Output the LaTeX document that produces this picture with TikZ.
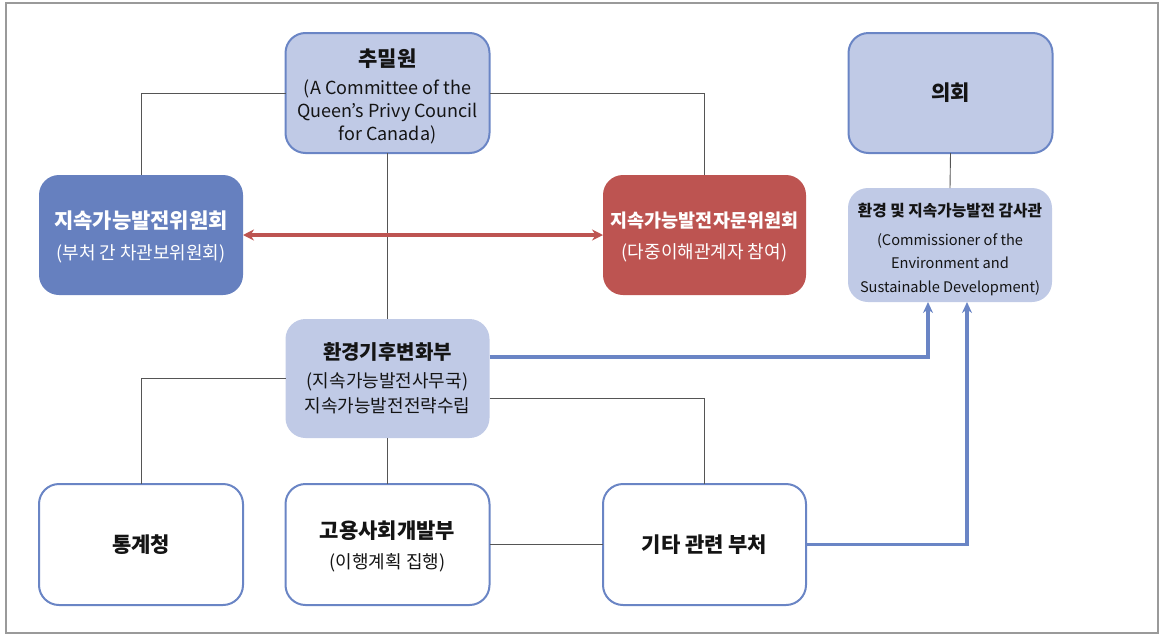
\documentclass[tikz,border=0pt]{standalone}
\usepackage{fontspec}
\setmainfont{Noto Sans CJK KR}
\usetikzlibrary{arrows.meta}
\definecolor{lblue}{HTML}{C0CAE6}
\definecolor{bord}{HTML}{6A85C5}
\definecolor{dblue}{HTML}{6680BF}
\definecolor{dred}{HTML}{BD5451}
\definecolor{lgray}{HTML}{555555}
\definecolor{frame}{HTML}{9A9A9A}
\definecolor{txt}{HTML}{141414}
\newcommand{\ttl}{\fontsize{21}{23}\selectfont\bfseries}
\newcommand{\sub}{\fontsize{18}{23}\selectfont}
\tikzset{
  box/.style={rounded corners=20pt, minimum width=204pt, minimum height=120pt, inner sep=0pt, outer sep=0pt, align=center, text=txt, line width=2pt, font=\fontsize{18}{23}\selectfont},
  lbox/.style={box, fill=lblue, draw=bord},
  nbox/.style={box, fill=lblue},
  wbox/.style={box, fill=white, draw=bord},
  conn/.style={draw=lgray, line width=0.9pt},
  bconn/.style={draw=bord, line width=3.5pt, -{Stealth[length=11pt,width=10pt]}},
  rconn/.style={draw=dred, line width=3.2pt, {Stealth[length=11pt,width=11pt]}-{Stealth[length=11pt,width=11pt]}}
}
\begin{document}
\begin{tikzpicture}[x=1pt,y=-1pt]
\useasboundingbox (0,0) rectangle (1162,635);
\draw[frame, line width=1.5pt] (6,3) rectangle (1158,633);

\node[lbox] (chu) at (387.5,93) {{\ttl\rule{0pt}{24pt}추밀원}\\[5pt]{\sub (A Committee of the}\\{\sub Queen’s Privy Council}\\{\sub for Canada)}};
\node[box, fill=dblue, text=white, minimum width=204pt] (sdc) at (141,235) {{\ttl\rule{0pt}{21pt}지속가능발전위원회}\\[8pt]{\sub (부처 간 차관보위원회)}};
\node[box, fill=dred, text=white, minimum width=203pt] (sdac) at (704.5,235) {{\fontsize{18.5}{23}\selectfont\bfseries\rule{0pt}{20pt}지속가능발전자문위원회}\\[8pt]{\sub (다중이해관계자 참여)}};
\node[lbox] (parl) at (950.5,93) {{\ttl 의회}};
\node[nbox, minimum height=114pt, font=\fontsize{14.6}{23.5}\selectfont] (cesd) at (950,245) {{\fontsize{15.7}{23}\selectfont\bfseries\rule{0pt}{22pt}환경 및 지속가능발전 감사관}\\[5pt](Commissioner of the\\Environment and\\Sustainable Development)};
\node[nbox, minimum height=119pt] (eccc) at (387.5,378.5) {{\fontsize{20}{23}\selectfont\bfseries 환경기후변화부}\\[5pt]{\sub (지속가능발전사무국)}\\[2pt]{\sub 지속가능발전전략수립}};
\node[wbox, minimum height=121pt] (stat) at (141,544.5) {{\ttl 통계청}};
\node[wbox, minimum height=121pt] (esdc) at (387.5,544.5) {{\ttl\rule{0pt}{22pt}고용사회개발부}\\[7pt]{\sub (이행계획 집행)}};
\node[wbox, minimum height=121pt, minimum width=203pt] (other) at (704.5,544.5) {{\ttl 기타 관련 부처}};

\draw[conn] (chu.west) -| (sdc.north);
\draw[conn] (chu.east) -| (sdac.north);
\draw[conn] (chu.south) -- (eccc.north);
\draw[conn] (parl.south) -- (cesd.north);
\draw[conn] (eccc.west) -| (stat.north);
\draw[conn] ([yshift=-20pt]eccc.east) -| (other.north);
\draw[conn] (eccc.south) -- (esdc.north);
\draw[conn] (esdc.east) -- (other.west);
\draw[rconn] (sdc.east) -- (sdac.west);
\draw[bconn] ([yshift=21.5pt]eccc.east) -| ([xshift=-22pt]cesd.south);
\draw[bconn] (other.east) -| ([xshift=17pt]cesd.south);
\end{tikzpicture}
\end{document}
